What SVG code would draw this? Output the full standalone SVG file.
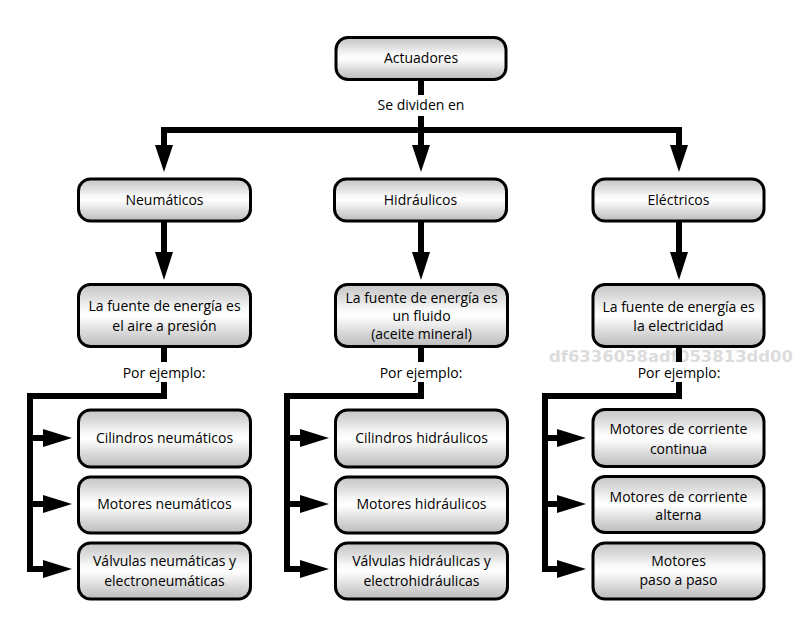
<svg xmlns="http://www.w3.org/2000/svg" width="795" height="624" viewBox="0 0 795 624">
<defs>
<linearGradient id="g" x1="0" y1="0" x2="0" y2="1">
<stop offset="0" stop-color="#c6c6c6"/>
<stop offset="0.12" stop-color="#d2d2d2"/>
<stop offset="0.25" stop-color="#e2e2e2"/>
<stop offset="0.38" stop-color="#f6f6f6"/>
<stop offset="0.5" stop-color="#ffffff"/>
<stop offset="0.62" stop-color="#f0f0f0"/>
<stop offset="0.75" stop-color="#dcdcdc"/>
<stop offset="0.88" stop-color="#cbcbcb"/>
<stop offset="1" stop-color="#bcbcbc"/>
</linearGradient>
<style>
.b{fill:url(#g);stroke:#000;stroke-width:3}
.t{font-family:"Open Sans","Noto Sans","DejaVu Sans",sans-serif;font-size:14px;fill:#000;text-anchor:middle}
.c{fill:none;stroke:#000;stroke-width:6;stroke-linejoin:miter;stroke-linecap:butt}
.h{fill:#000;stroke:none}
.w{font-family:"DejaVu Sans",Verdana,sans-serif;font-weight:bold;font-size:15.5px;fill:#dcdcdc}
</style>
</defs>
<rect width="795" height="624" fill="#fff"/>
<text class="w" x="549" y="362" textLength="244" lengthAdjust="spacingAndGlyphs">df6336058adf053813dd00</text>
<g id="connectors">
<path class="c" d="M421,80 V95"/>
<path class="c" d="M421,116 V146"/>
<path class="c" d="M164,146 V130 H679 V146"/>
<polygon class="h" points="155,145 173,145 164,172"/>
<polygon class="h" points="412,145 430,145 421,172"/>
<polygon class="h" points="670,145 688,145 679,172"/>
<path class="c" d="M164,222 V253"/>
<path class="c" d="M421,222 V253"/>
<path class="c" d="M679,222 V253"/>
<polygon class="h" points="155,252 173,252 164,280"/>
<polygon class="h" points="412,252 430,252 421,280"/>
<polygon class="h" points="670,252 688,252 679,280"/>
<path class="c" d="M164,347 V362"/>
<path class="c" d="M421,347 V362"/>
<path class="c" d="M679,347 V362"/>
<path class="c" d="M164,382 V396 H30 V569 H46"/>
<path class="c" d="M30,438 H46 M30,504 H46"/>
<polygon class="h" points="43,429 43,447 72,438"/>
<polygon class="h" points="43,495 43,513 72,504"/>
<polygon class="h" points="43,560 43,578 72,569"/>
<path class="c" d="M421,382 V396 H287 V569 H303"/>
<path class="c" d="M287,438 H303 M287,504 H303"/>
<polygon class="h" points="300,429 300,447 329,438"/>
<polygon class="h" points="300,495 300,513 329,504"/>
<polygon class="h" points="300,560 300,578 329,569"/>
<path class="c" d="M679,382 V396 H545 V569 H560"/>
<path class="c" d="M545,438 H560 M545,504 H560"/>
<polygon class="h" points="557,429 557,447 586,438"/>
<polygon class="h" points="557,495 557,513 586,504"/>
<polygon class="h" points="557,560 557,578 586,569"/>
<text class="t" x="421" y="110">Se dividen en</text>
<text class="t" x="164" y="378">Por ejemplo:</text>
<text class="t" x="421" y="378">Por ejemplo:</text>
<text class="t" x="679" y="378">Por ejemplo:</text>
</g>
<g id="actuadores"><rect class="b" x="336" y="37.5" width="170" height="42" rx="12"/><text class="t" x="421" y="63">Actuadores</text></g>
<g id="neumaticos"><rect class="b" x="78.5" y="179" width="172" height="42" rx="12"/><text class="t" x="164.5" y="205">Neumáticos</text></g>
<g id="hidraulicos"><rect class="b" x="334.5" y="179" width="172" height="42" rx="12"/><text class="t" x="420.5" y="205">Hidráulicos</text></g>
<g id="electricos"><rect class="b" x="593" y="179" width="171" height="42" rx="12"/><text class="t" x="678.5" y="205">Eléctricos</text></g>
<g id="fuente-neumatica"><rect class="b" x="78.5" y="284.5" width="172" height="62" rx="12"/><text class="t" x="164.5" y="311">La fuente de energía es</text><text class="t" x="164.5" y="331">el aire a presión</text></g>
<g id="fuente-hidraulica"><rect class="b" x="335.5" y="284.5" width="172" height="62" rx="12"/><text class="t" x="421.5" y="303">La fuente de energía es</text><text class="t" x="421.5" y="321">un fluido</text><text class="t" x="421.5" y="339">(aceite mineral)</text></g>
<g id="fuente-electrica"><rect class="b" x="593" y="284.5" width="171" height="62" rx="12"/><text class="t" x="678.5" y="312">La fuente de energía es</text><text class="t" x="678.5" y="331">la electricidad</text></g>
<g id="cilindros-neumaticos"><rect class="b" x="78.5" y="410" width="172" height="57" rx="12"/><text class="t" x="164.5" y="443">Cilindros neumáticos</text></g>
<g id="motores-neumaticos"><rect class="b" x="78.5" y="477" width="172" height="56" rx="12"/><text class="t" x="164.5" y="509">Motores neumáticos</text></g>
<g id="valvulas-neumaticas"><rect class="b" x="78.5" y="543" width="172" height="56" rx="12"/><text class="t" x="164.5" y="566">Válvulas neumáticas y</text><text class="t" x="164.5" y="586">electroneumáticas</text></g>
<g id="cilindros-hidraulicos"><rect class="b" x="335.5" y="410" width="172" height="57" rx="12"/><text class="t" x="421.5" y="443">Cilindros hidráulicos</text></g>
<g id="motores-hidraulicos"><rect class="b" x="335.5" y="477" width="172" height="56" rx="12"/><text class="t" x="421.5" y="509">Motores hidráulicos</text></g>
<g id="valvulas-hidraulicas"><rect class="b" x="335.5" y="543" width="172" height="56" rx="12"/><text class="t" x="421.5" y="566">Válvulas hidráulicas y</text><text class="t" x="421.5" y="586">electrohidráulicas</text></g>
<g id="motores-cc"><rect class="b" x="593" y="409.5" width="171" height="57" rx="12"/><text class="t" x="678.5" y="434">Motores de corriente</text><text class="t" x="678.5" y="454">continua</text></g>
<g id="motores-ca"><rect class="b" x="593" y="476.5" width="171" height="56" rx="12"/><text class="t" x="678.5" y="502">Motores de corriente</text><text class="t" x="678.5" y="520">alterna</text></g>
<g id="motores-paso"><rect class="b" x="593" y="543" width="171" height="56" rx="12"/><text class="t" x="678.5" y="566">Motores</text><text class="t" x="678.5" y="585">paso a paso</text></g>
</svg>
